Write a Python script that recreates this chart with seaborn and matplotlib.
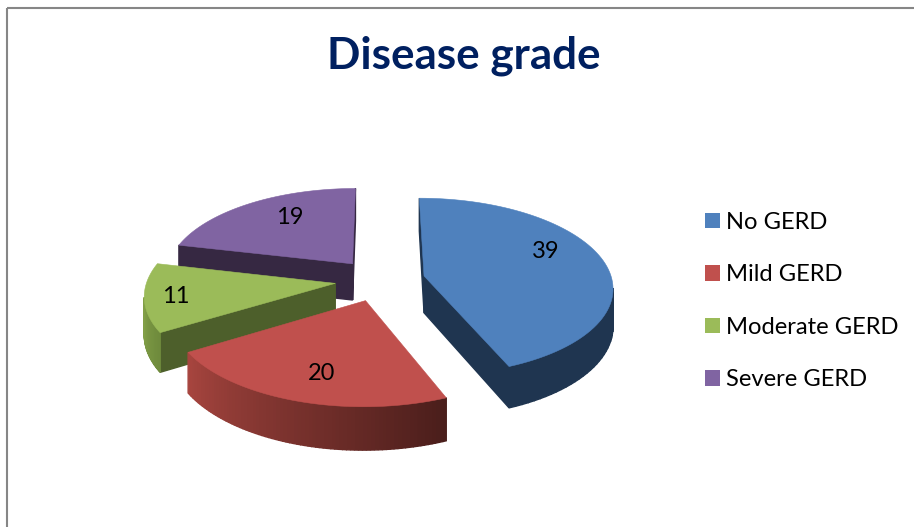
import numpy as np
import matplotlib
matplotlib.use("Agg")
import matplotlib.pyplot as plt
from matplotlib.patches import Patch
import seaborn as sns

# Data
categories = ["No GERD", "Mild GERD", "Moderate GERD", "Severe GERD"]
values = [39, 20, 11, 19]

# Styles
top_colors = sns.color_palette(["#4F81BD", "#C0504D", "#9BBB59", "#8064A2"])
rim_start = ["#1F3550", "#4A1E1B", "#6E8A3C", "#362842"]
rim_end = ["#1F3550", "#A8453F", "#96B653", "#362842"]
side_colors = ["#1F3550", "#4A1E1B", "#4D5F2B", "#362842"]
label_reach = [0.66, 0.72, 0.85, 0.68]
label_shift = [(3, -14), (5, 3), (2, 1), (9, -4)]
draw_order = [3, 0, 2, 1]

# Projection of the tilted disc to pixels
CX, CY = 380, 280
RX, RY = 188, 88
PERSP = 0.12
EXPLODE = 0.24
DEPTH = 37

sns.set_theme(style="white")
plt.rcParams["font.family"] = ["Lato", "DejaVu Sans"]


def project(u, v, z=0.0):
    s = 1.0 / (1.0 + PERSP * v)
    return CX + RX * u * s, CY - RY * v * s + DEPTH * z * s


def blend(c0, c1, t):
    c0, c1 = np.array(matplotlib.colors.to_rgb(c0)), np.array(matplotlib.colors.to_rgb(c1))
    return tuple(c0 + (c1 - c0) * t)


def shoelace(xs, ys):
    return np.sum(xs * np.roll(ys, -1) - np.roll(xs, -1) * ys)


fig = plt.figure(figsize=(9.14, 5.27), dpi=100)
ax = fig.add_axes([0, 0, 1, 1])
ax.set_xlim(0, 914)
ax.set_ylim(527, 0)
ax.axis("off")

# chart frame, only top and left are visible in the crop
ax.plot([7, 914], [8, 8], color="#868686", lw=1.5, solid_capstyle="butt")
ax.plot([7, 7], [8, 527], color="#868686", lw=1.5, solid_capstyle="butt")

edges = np.cumsum([0] + values) / np.sum(values) * 2 * np.pi

for i in draw_order:
    a0, a1 = edges[i], edges[i + 1]
    mid = (a0 + a1) / 2
    ou, ov = EXPLODE * np.sin(mid), EXPLODE * np.cos(mid)
    angles = np.linspace(a0, a1, 80)
    us = ou + np.sin(angles)
    vs = ov + np.cos(angles)

    # outline going clockwise: apex, arc, back to apex
    ring_u = np.concatenate([[ou], us])
    ring_v = np.concatenate([[ov], vs])
    n = len(ring_u)
    for j in range(n):
        k = (j + 1) % n
        px0, py0 = project(ring_u[j], ring_v[j])
        px1, py1 = project(ring_u[k], ring_v[k])
        qx1, qy1 = project(ring_u[k], ring_v[k], 1)
        qx0, qy0 = project(ring_u[j], ring_v[j], 1)
        xs = np.array([px0, px1, qx1, qx0])
        ys = np.array([py0, py1, qy1, qy0])
        if shoelace(xs, ys) >= 0:
            continue
        if j == 0 or j == n - 1:
            col = side_colors[i]
        else:
            col = blend(rim_start[i], rim_end[i], (j - 1) / (n - 2))
        ax.fill(xs, ys, facecolor=col, edgecolor=col, lw=1.0, zorder=2 + draw_order.index(i))

    tx, ty = project(ring_u, ring_v)
    ax.fill(tx, ty, facecolor=top_colors[i], edgecolor=top_colors[i], lw=0.4,
            zorder=2.5 + draw_order.index(i))

    lx, ly = project(ou + label_reach[i] * np.sin(mid), ov + label_reach[i] * np.cos(mid))
    ax.text(lx + label_shift[i][0], ly + label_shift[i][1], str(values[i]), ha="center",
            va="center", fontsize=17, color="black", zorder=20)

ax.text(463.5, 56, "Disease grade", ha="center", va="center", fontsize=31.7,
        fontweight="bold", color="#002060")

handles = [Patch(facecolor=c, edgecolor="none", label=t) for c, t in zip(top_colors, categories)]
ax.legend(handles=handles, loc="center left", bbox_to_anchor=(705, 301),
          bbox_transform=ax.transData, frameon=False, fontsize=17.1,
          handlelength=0.62, handleheight=0.62, handletextpad=0.28,
          labelspacing=1.33, borderpad=0, borderaxespad=0, labelcolor="black")

fig.savefig("out.png", dpi=100)
